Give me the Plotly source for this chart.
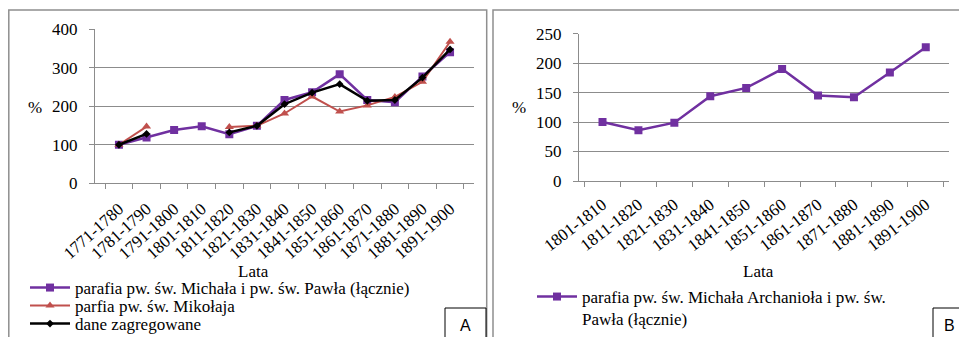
import plotly.graph_objects as go

# page offset (browser body margin) compensation
OFF = 8
PAGE_W, PAGE_H = 967, 337
W, H = PAGE_W - OFF, PAGE_H - OFF

cats_a = ["1771-1780", "1781-1790", "1791-1800", "1801-1810", "1811-1820", "1821-1830",
          "1831-1840", "1841-1850", "1851-1860", "1861-1870", "1871-1880", "1881-1890", "1891-1900"]
michal_pawel_a = [100, 119, 138, 148, 127, 149, 216, 236, 283, 216, 210, 277, 340]
mikolaj_a = [100, 147, None, None, 146, 149, 181, 225, 186, 202, 224, 263, 367]
zagregowane_a = [100, 128, None, None, 132, 149, 205, 235, 257, 214, 216, 274, 347]

cats_b = ["1801-1810", "1811-1820", "1821-1830", "1831-1840", "1841-1850", "1851-1860",
          "1861-1870", "1871-1880", "1881-1890", "1891-1900"]
michal_pawel_b = [100, 86, 99, 144, 158, 190, 145, 142, 184, 227]

PURPLE = "#7030A0"
RED = "#C0504D"
GRID = "#8c8c8c"
SERIF = "Liberation Serif, Times New Roman, serif"
FS = 17


def px(x):
    return (x - OFF) / W


def py(y):
    return 1 - (y - OFF) / H


fig = go.Figure()
fig.add_trace(go.Scatter(x=cats_a, y=michal_pawel_a, mode="lines+markers",
                         name="parafia pw. św. Michała i pw. św. Pawła (łącznie)",
                         line=dict(color=PURPLE, width=2.5),
                         marker=dict(symbol="square", size=8, color=PURPLE),
                         xaxis="x", yaxis="y", legend="legend"))
fig.add_trace(go.Scatter(x=cats_a, y=mikolaj_a, mode="lines+markers",
                         name="parfia pw. św. Mikołaja",
                         line=dict(color=RED, width=2),
                         marker=dict(symbol="triangle-up", size=8, color=RED),
                         connectgaps=False,
                         xaxis="x", yaxis="y", legend="legend2"))
fig.add_trace(go.Scatter(x=cats_a, y=zagregowane_a, mode="lines+markers",
                         name="dane zagregowane",
                         line=dict(color="black", width=2.5),
                         marker=dict(symbol="diamond", size=6, color="black"),
                         connectgaps=False,
                         xaxis="x", yaxis="y", legend="legend3"))
fig.add_trace(go.Scatter(x=cats_b, y=michal_pawel_b, mode="lines+markers",
                         name="parafia pw. św. Michała Archanioła i pw. św.<br>Pawła (łącznie)",
                         line=dict(color=PURPLE, width=2.5),
                         marker=dict(symbol="square", size=8, color=PURPLE),
                         xaxis="x2", yaxis="y2", legend="legend4"))

xcommon = dict(type="category", showgrid=False, showline=True, linecolor=GRID, linewidth=1.3,
               ticks="outside", tickson="boundaries", ticklen=5, tickcolor=GRID, tickwidth=1.3,
               tickfont=dict(family=SERIF, size=FS, color="black"),
               fixedrange=True, automargin=False)
ycommon = dict(showgrid=True, gridcolor=GRID, gridwidth=1.3, showline=True, linecolor=GRID,
               linewidth=1.3, ticks="outside", ticklen=5, tickcolor=GRID, tickwidth=1.3,
               tickfont=dict(family=SERIF, size=FS, color="black"), zeroline=False,
               ticklabelstandoff=8, fixedrange=True, automargin=False)

leg_common = dict(font=dict(family=SERIF, size=FS, color="black"), bgcolor="rgba(0,0,0,0)",
                  borderwidth=0, xanchor="left", itemwidth=40, itemclick=False, itemdoubleclick=False)

fig.update_layout(
    width=W, height=H, autosize=False,
    margin=dict(l=0, r=0, t=0, b=0, pad=0, autoexpand=False),
    paper_bgcolor="white", plot_bgcolor="white",
    font=dict(family=SERIF, size=FS, color="black"),
    xaxis=dict(domain=[px(95), px(474)], anchor="y", tickangle=-42, ticklabelstandoff=8, **xcommon),
    yaxis=dict(domain=[py(183.3), py(29)], anchor="x", range=[0, 400], dtick=100, **ycommon),
    xaxis2=dict(domain=[px(579), px(949.3)], anchor="y2", tickangle=-38, ticklabelstandoff=6, **xcommon),
    yaxis2=dict(domain=[py(181), py(33.7)], anchor="x2", range=[0, 250], dtick=50, **ycommon),
    legend=dict(x=px(25), y=py(288), yanchor="middle", **leg_common),
    legend2=dict(x=px(25), y=py(306), yanchor="middle", **leg_common),
    legend3=dict(x=px(25), y=py(324), yanchor="middle", **leg_common),
    legend4=dict(x=px(532), y=py(279), yanchor="top", valign="top", **leg_common),
    showlegend=True,
)

# panel borders
for x0, x1 in [(8.8, 486.7), (493, 985)]:
    fig.add_shape(type="rect", xref="paper", yref="paper", x0=px(x0), x1=px(x1),
                  y0=py(360), y1=py(10), line=dict(color="#8f8f8f", width=1.5), layer="below")

# label boxes
for x0, x1, lab, cx in [(445, 486, "A", 465), (933, 985, "B", 949)]:
    fig.add_shape(type="rect", xref="paper", yref="paper", x0=px(x0), x1=px(x1),
                  y0=py(360), y1=py(308), line=dict(color="black", width=1))
    fig.add_annotation(x=px(cx), y=py(325), xref="paper", yref="paper", text=lab, showarrow=False,
                       font=dict(family="Liberation Sans, Arial, sans-serif", size=16, color="black"),
                       xanchor="center", yanchor="middle")

for x, y, t in [(35, 107, "%"), (519.5, 108, "%"), (253, 271, "Lata"), (758, 271, "Lata")]:
    fig.add_annotation(x=px(x), y=py(y), xref="paper", yref="paper", text=t, showarrow=False,
                       font=dict(family=SERIF, size=FS, color="black"),
                       xanchor="center", yanchor="middle")

fig.write_html("out.html")
